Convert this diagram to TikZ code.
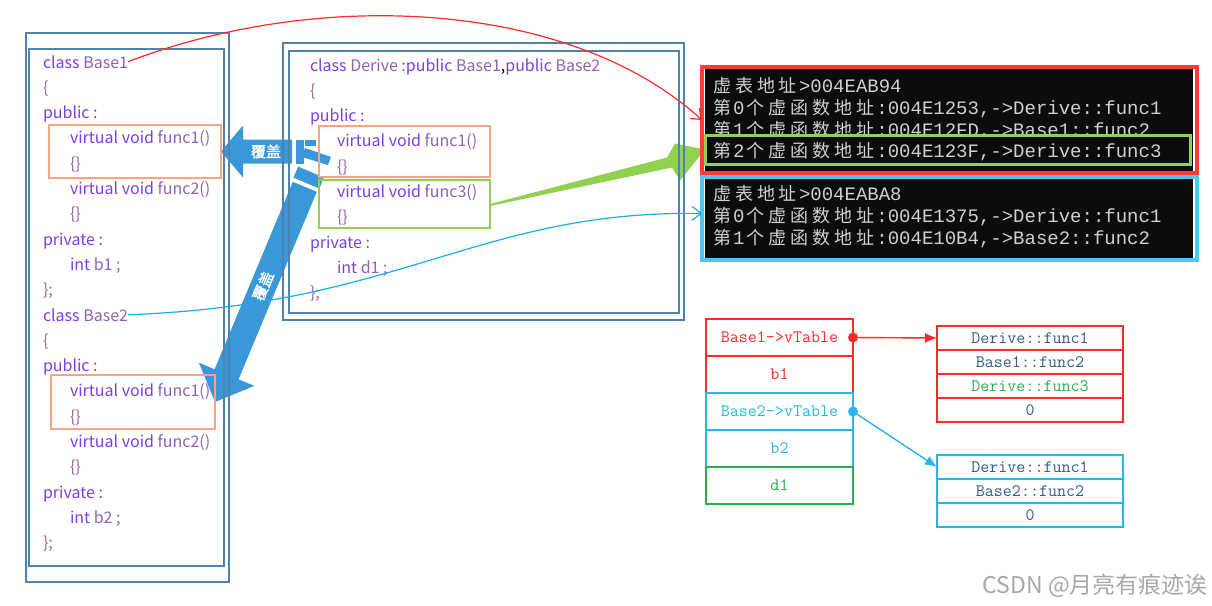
\documentclass[tikz,border=0pt]{standalone}
\usepackage{fontspec}
\usetikzlibrary{arrows.meta,calc,backgrounds}
\newfontfamily\cjk{Noto Sans CJK SC}
\newfontfamily\conmono{Liberation Mono}
\definecolor{kw}{HTML}{7B3FE4}
\definecolor{idc}{HTML}{8A64B4}
\definecolor{brc}{HTML}{9C6A8E}
\definecolor{framec}{HTML}{4E83B0}
\definecolor{orangec}{HTML}{F4A582}
\definecolor{greenc}{HTML}{92D050}
\definecolor{thickblue}{HTML}{3A98D8}
\definecolor{redc}{HTML}{FF2A2A}
\definecolor{conred}{HTML}{FF3C3C}
\definecolor{conblue}{HTML}{4FC6F0}
\definecolor{lineblue}{HTML}{1AAEE8}
\definecolor{tblblue}{HTML}{29B5EA}
\definecolor{tblgreen}{HTML}{22B14C}
\definecolor{vtext}{HTML}{2E5E8C}
\definecolor{contxt}{HTML}{D0D0D0}
\definecolor{conbg}{HTML}{0C0C0C}
\definecolor{wmc}{HTML}{A8A8A8}
\newcommand\K[1]{\textcolor{kw}{#1}}
\newcommand\I[1]{\textcolor{idc}{#1}}
\newcommand\B[1]{\textcolor{brc}{#1}}
\newcommand\codefont{\cjk\fontsize{16}{18}\selectfont}
\newcommand\confont{\conmono\fontsize{19}{21}\selectfont\color{contxt}}
\newcommand\zc[1]{\makebox[22pt]{\cjk\fontsize{18}{19}\selectfont #1}}
\newcommand\tblfont{\ttfamily\fontsize{17.5}{19}\selectfont\addfontfeature{FakeBold=1}}
\newcommand\coverfont{\cjk\fontsize{15}{16}\selectfont\addfontfeature{FakeBold=1.5}}
\tikzset{
  code/.style={anchor=base west, inner sep=0pt, outer sep=0pt, font=\codefont},
  frame/.style={draw=framec, line width=1.6pt, inner sep=0pt, outer sep=0pt},
  obox/.style={draw=orangec, line width=1.4pt, inner sep=0pt, outer sep=0pt},
  gbox/.style={draw=greenc, line width=1.4pt, inner sep=0pt, outer sep=0pt},
  contxt/.style={anchor=base west, inner sep=0pt, outer sep=0pt, font=\confont},
  row/.style={line width=1.3pt, inner sep=0pt, outer sep=0pt, font=\tblfont, minimum width=147pt, minimum height=37pt},
  vrow/.style={line width=1.3pt, inner sep=0pt, outer sep=0pt, font=\tblfont, minimum width=186pt, minimum height=24pt},
  coverlabel/.style={text=white, inner sep=0pt, font=\coverfont},
}
\begin{document}
\begin{tikzpicture}[x=1pt,y=-1pt]
\useasboundingbox (0,0) rectangle (1212,605);

% ---- frames
\node[frame, minimum width=203pt, minimum height=549pt] (lfo) at (127.5,307.5) {};
\node[frame, minimum width=195pt, minimum height=517pt] (lfi) at (126.5,307.5) {};
\node[frame, minimum width=401pt, minimum height=277pt] (dfo) at (483.5,181.5) {};
\node[frame, minimum width=390pt, minimum height=262pt] (dfi) at (484,182) {};

% ---- highlight boxes
\node[obox, minimum width=172pt, minimum height=53pt] (ob1) at (135,151.5) {};
\node[obox, minimum width=164pt, minimum height=54pt] (ob2) at (133,402) {};
\node[obox, minimum width=171pt, minimum height=51pt] (od1) at (404.5,151.5) {};
\node[gbox, minimum width=171pt, minimum height=48pt] (od3) at (404.5,204) {};

% ---- left code
\node[code] (l0) at (43,68) {\K{class} \I{Base1}};
\node[code] (l1) at (43,93.3) {\B{\{}};
\node[code] (l2) at (43,118.6) {\K{public :}};
\node[code] (l3) at (70,143.9) {\K{virtual void} \I{func1()}};
\node[code] (l4) at (70,169.2) {\B{\{\}}};
\node[code] (l5) at (70,194.5) {\K{virtual void} \I{func2()}};
\node[code] (l6) at (70,219.8) {\B{\{\}}};
\node[code] (l7) at (43,245.1) {\K{private :}};
\node[code] (l8) at (70,270.4) {\K{int} \I{b1 ;}};
\node[code] (l9) at (43,295.7) {\B{\};}};
\node[code] (l10) at (43,321) {\K{class} \I{Base2}};
\node[code] (l11) at (43,346.3) {\B{\{}};
\node[code] (l12) at (43,371.6) {\K{public :}};
\node[code] (l13) at (70,396.9) {\K{virtual void} \I{func1()}};
\node[code] (l14) at (70,422.2) {\B{\{\}}};
\node[code] (l15) at (70,447.5) {\K{virtual void} \I{func2()}};
\node[code] (l16) at (70,472.8) {\B{\{\}}};
\node[code] (l17) at (43,498.1) {\K{private :}};
\node[code] (l18) at (70,523.4) {\K{int} \I{b2 ;}};
\node[code] (l19) at (43,548.7) {\B{\};}};

% ---- derive code
\node[code] (d0) at (310,71) {\K{class} \I{Derive} \K{:public} \I{Base1},\K{public} \I{Base2}};
\node[code] (d1) at (310,96.3) {\B{\{}};
\node[code] (d2) at (310,121.6) {\K{public :}};
\node[code] (d3) at (337,146.9) {\K{virtual void} \I{func1()}};
\node[code] (d4) at (337,172.2) {\B{\{\}}};
\node[code] (d5) at (337,197.5) {\K{virtual void} \I{func3()}};
\node[code] (d6) at (337,222.8) {\B{\{\}}};
\node[code] (d7) at (310,248.1) {\K{private :}};
\node[code] (d8) at (337,273.4) {\K{int} \I{d1 ;}};
\node[code] (d9) at (310,298.7) {\B{\};}};

% ---- console windows
\fill[conbg] (705,69) rectangle (1193,171);
\node[draw=conred, line width=4pt, inner sep=0pt, outer sep=0pt, minimum width=495pt, minimum height=106pt] (con1) at (949.5,120) {};
\fill[conbg] (705,179) rectangle (1193,258);
\node[draw=conblue, line width=4pt, inner sep=0pt, outer sep=0pt, minimum width=495pt, minimum height=83pt] (con2) at (949.5,218.5) {};

\node[contxt] (c1) at (711,92) {\zc{虚}\zc{表}\zc{地}\zc{址}>004EAB94};
\node[contxt] (c2) at (711,114) {\zc{第}0\zc{个}\zc{虚}\zc{函}\zc{数}\zc{地}\zc{址}:004E1253,->Derive::func1};
\node[contxt] (c3) at (711,136) {\zc{第}1\zc{个}\zc{虚}\zc{函}\zc{数}\zc{地}\zc{址}:004E12FD,->Base1::func2};
\fill[conbg] (706,137) rectangle (1189,163);
\node[contxt] (c4) at (711,157) {\zc{第}2\zc{个}\zc{虚}\zc{函}\zc{数}\zc{地}\zc{址}:004E123F,->Derive::func3};
\node[draw=greenc, line width=3pt, inner sep=0pt, outer sep=0pt, minimum width=485pt, minimum height=29pt] (grow) at (947.5,149.5) {};

\node[contxt] (c5) at (711,200) {\zc{虚}\zc{表}\zc{地}\zc{址}>004EABA8};
\node[contxt] (c6) at (711,222) {\zc{第}0\zc{个}\zc{虚}\zc{函}\zc{数}\zc{地}\zc{址}:004E1375,->Derive::func1};
\node[contxt] (c7) at (711,244) {\zc{第}1\zc{个}\zc{虚}\zc{函}\zc{数}\zc{地}\zc{址}:004E10B4,->Base2::func2};

% ---- object memory layout
\node[row, draw=redc, text=redc] (m1) at (779.5,337.5) {Base1->vTable};
\node[row, draw=redc, text=redc] (m2) at (779.5,374.5) {b1};
\node[row, draw=tblblue, text=tblblue] (m3) at (779.5,411.5) {Base2->vTable};
\node[row, draw=tblblue, text=tblblue] (m4) at (779.5,448.5) {b2};
\node[row, draw=tblgreen, text=tblgreen] (m5) at (779.5,485.5) {d1};

% ---- vtables
\node[vrow, draw=redc, text=vtext] (v1a) at (1030,338) {Derive::func1};
\node[vrow, draw=redc, text=vtext] (v1b) at (1030,362) {Base1::func2};
\node[vrow, draw=redc, text=tblgreen] (v1c) at (1030,386) {Derive::func3};
\node[vrow, draw=redc, text=vtext] (v1d) at (1030,410) {0};
\node[vrow, draw=tblblue, text=vtext] (v2a) at (1030,467) {Derive::func1};
\node[vrow, draw=tblblue, text=vtext] (v2b) at (1030,491) {Base2::func2};
\node[vrow, draw=tblblue, text=vtext] (v2c) at (1030,515) {0};

\fill[redc] (m1.east) circle (5pt);
\fill[tblblue] (m3.east) circle (5pt);
\draw[redc, line width=1.4pt, -{Latex[length=12pt,width=10pt]}] (m1.east) -- (v1a.west);
\draw[tblblue, line width=1.4pt, -{Latex[length=12pt,width=10pt]}] (m3.east) -- (v2a.west);

% ---- watermark
\node[anchor=base east, inner sep=0pt, text=wmc, font=\cjk\fontsize{23}{25}\selectfont] (wm) at (1208,593) {CSDN @月亮有痕迹诶};

% ---- thick arrows (behind frames)
\begin{pgfonlayer}{background}
  \fill[white] (0,0) rectangle (1212,605);
  % left "cover" arrow
  \fill[thickblue] (ob1.east) -- ($(ob1.east)+(22,-26)$) -- ($(ob1.east)+(22,-12)$) -- ($(ob1.east)+(71,-12)$)
     -- ($(ob1.east)+(71,12)$) -- ($(ob1.east)+(22,12)$) -- ($(ob1.east)+(22,26)$) -- cycle;
  \fill[thickblue] ($(ob1.east)+(75,-12)$) rectangle ($(ob1.east)+(83,12)$);
  \fill[thickblue] ($(ob1.east)+(84,-12)$) rectangle ($(ob1.east)+(95,-6)$);
  \fill[thickblue] ($(ob1.east)+(84,-3.5)$) -- ($(ob1.east)+(110,5.5)$) -- ($(ob1.east)+(107,13.5)$) -- ($(ob1.east)+(81,5.5)$) -- cycle;
  % diagonal "cover" arrow
  \fill[thickblue] (ob2.east) -- ($(ob2.east)+(-16.1,-39.3)$) -- ($(ob2.east)+(-0.4,-32.7)$) -- ($(ob2.east)+(77.8,-220.2)$)
     -- ($(ob2.east)+(101.8,-210.2)$) -- ($(ob2.east)+(23.6,-22.7)$) -- ($(ob2.east)+(39.3,-16.1)$) -- cycle;
  \fill[thickblue] ($(ob2.east)+(78.5,-224.3)$) -- ($(ob2.east)+(83.1,-235.4)$) -- ($(ob2.east)+(108.9,-224.6)$) -- ($(ob2.east)+(104.3,-213.5)$) -- cycle;
  % green arrow
  \fill[greenc] (od3.east) -- ($(grow.west)+(-38,8)$) -- ($(grow.west)+(-30,-6)$) -- (grow.west)
     -- ($(grow.west)+(-25,31)$) -- ($(grow.west)+(-33,18)$) -- ($(od3.east)+(0,2)$) -- cycle;
\end{pgfonlayer}
\node[coverlabel] (t1) at (266,151.5) {覆盖};
\node[coverlabel, rotate=67] (t2) at (263,286) {覆盖};

% ---- thin connectors
\draw[redc, line width=1.2pt, -{Straight Barb[length=9pt,width=14pt]}] (l0.east) .. controls (320,-12) and (570,0) .. (con1.west);
\draw[lineblue, line width=1.2pt, -{Straight Barb[length=9pt,width=14pt]}] (l10.east) .. controls (400,305) and (480,210) .. ([yshift=5pt]con2.west);
\end{tikzpicture}
\end{document}
